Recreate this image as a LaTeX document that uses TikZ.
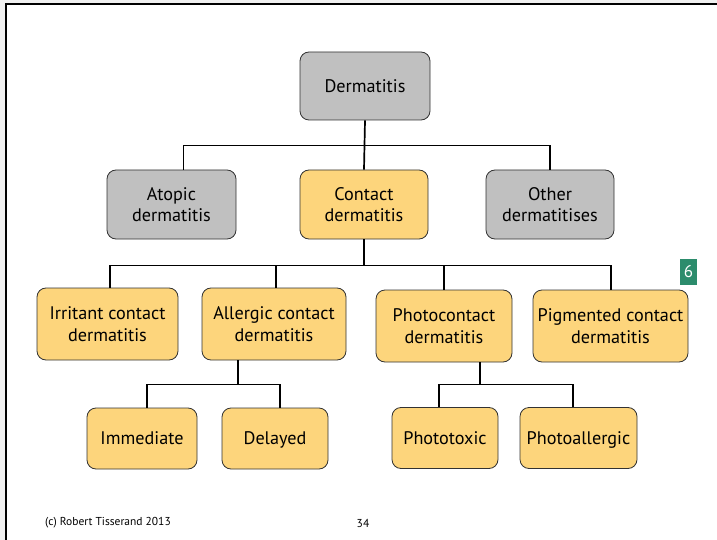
\documentclass[tikz,border=0pt]{standalone}
\usepackage{fontspec}
\setmainfont{PT Sans}
\usepackage{xcolor}
\usepackage{tikz}
\usetikzlibrary{positioning, calc}
\definecolor{dgray}{RGB}{192,192,192}
\definecolor{dorange}{RGB}{253,213,124}
\definecolor{dgreen}{RGB}{44,140,108}
\definecolor{dedge}{RGB}{50,50,50}

\begin{document}
\begin{tikzpicture}[x=1pt,y=-1pt,
  box/.style={draw=dedge,line width=0.8pt,rounded corners=9pt,align=center,
    inner sep=2pt,font=\fontsize{18.2}{21.5}\selectfont},
  oneline/.style={text height=12.5pt,text depth=0pt},
  greybox/.style={box,fill=dgray},
  orangebox/.style={box,fill=dorange},
  link/.style={draw=black,line width=1.7pt}]
\useasboundingbox (0,0) rectangle (717,540);
% page edge
\fill[gray!12] (0,0) rectangle (717,4);
\fill[gray!12] (0,0) rectangle (6,540);
\draw[line width=1.2pt] (6,540) -- (6,4) -- (717,4);

% top level
\node[greybox,oneline,minimum width=130,minimum height=68] (root) at (365,86) {Dermatitis};

% second level
\node[greybox,minimum width=129,minimum height=69] (atopic) at (171.5,204.5) {Atopic\\dermatitis};
\node[orangebox,minimum width=128,minimum height=69] (contact) at (364,204.5) {Contact\\dermatitis};
\node[greybox,minimum width=128,minimum height=69] (other) at (550,204.5) {Other\\dermatitises};

% third level
\node[orangebox,minimum width=141,minimum height=72] (irritant) at (107.5,324) {Irritant contact\\dermatitis};
\node[orangebox,minimum width=144,minimum height=72] (allergic) at (274,324) {Allergic contact\\dermatitis};
\node[orangebox,minimum width=136,minimum height=72] (photo) at (444,326) {Photocontact\\dermatitis};
\node[orangebox,minimum width=155,minimum height=72] (pigment) at (610.5,326) {Pigmented contact\\dermatitis};

% fourth level
\node[orangebox,oneline,minimum width=110,minimum height=61] (immediate) at (142,438.5) {Immediate};
\node[orangebox,oneline,minimum width=106,minimum height=61] (delayed) at (275,438.5) {Delayed};
\node[orangebox,oneline,minimum width=106,minimum height=61] (phototoxic) at (445,438) {Phototoxic};
\node[orangebox,oneline,minimum width=117,minimum height=61] (photoallergic) at (578.5,438) {Photoallergic};

% connectors
\draw[link] (root.south) -- (contact.north);
\draw[link] ([xshift=12pt]atopic.north) -- ++(0,-24) -| (other.north);

\draw[link] (contact.south) -- ++(0,26) coordinate (b2);
\draw[link] ([xshift=2.5pt]irritant.north) |- (b2) -| ([xshift=0.5pt]pigment.north);
\draw[link] ([xshift=2pt]allergic.north) -- ([xshift=2pt]allergic.north |- b2);
\draw[link] (photo.north) -- (photo.north |- b2);

\draw[link] ([xshift=-36pt]allergic.south) -- ++(0,24) coordinate (b3);
\draw[link] ([xshift=5pt]immediate.north) |- (b3) -| ([xshift=5pt]delayed.north);
\draw[link] ([xshift=36pt]photo.south) -- ++(0,22) coordinate (b4);
\draw[link] ([xshift=-6pt]phototoxic.north) |- (b4) -| ([xshift=-5.5pt]photoallergic.north);

% slide badge and footer
\node[fill=dgreen,text=white,minimum width=17,minimum height=26,inner sep=0pt,
  font=\fontsize{17}{20}\selectfont] (badge) at (688.5,272) {6};
\node[anchor=west,inner sep=0pt,font=\fontsize{11.5}{13}\selectfont] (credit) at (45,523) {(c) Robert Tisserand 2013};
\node[inner sep=0pt,font=\fontsize{11.5}{13}\selectfont] (pagenum) at (363,523) {34};
\end{tikzpicture}
\end{document}
